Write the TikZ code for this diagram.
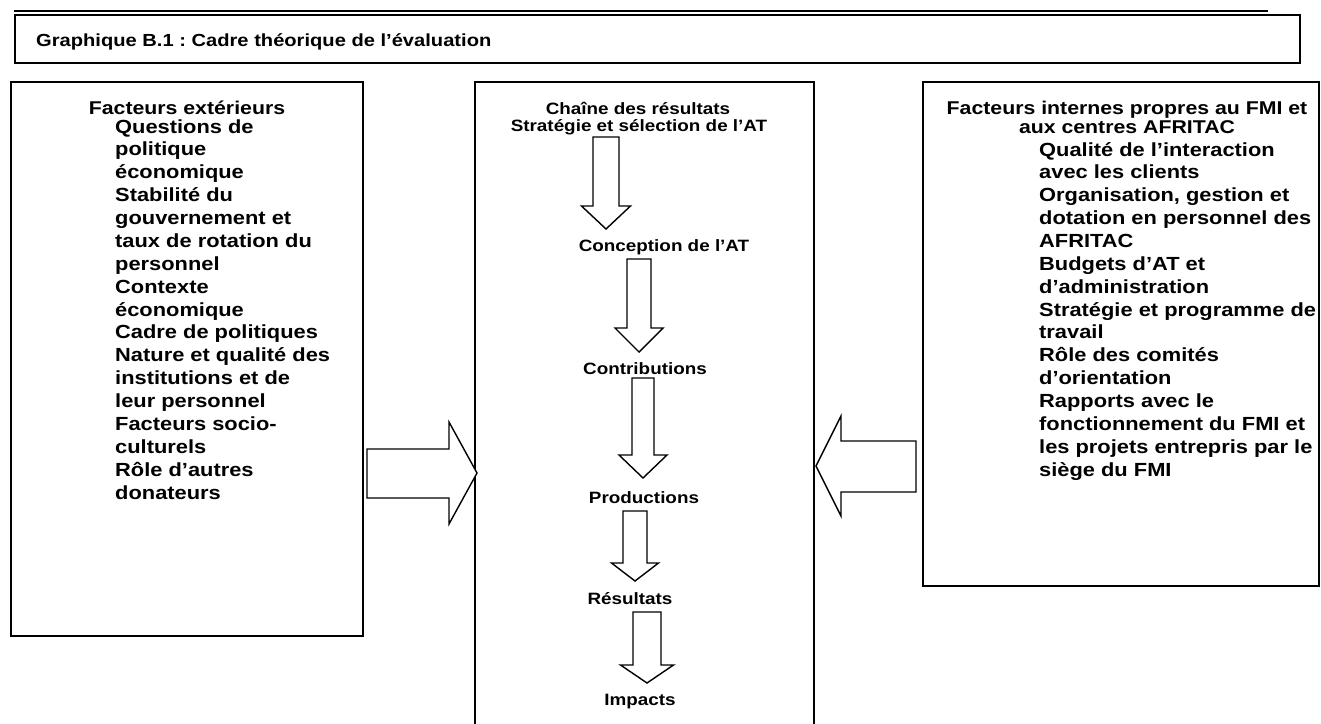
\documentclass[tikz,border=0pt]{standalone}
\usepackage{fontspec}
\newfontfamily\fwide{Liberation Sans}[FakeStretch=1.15]
\begin{document}
\frenchspacing
\begin{tikzpicture}[x=1pt,y=-1pt,
  frame/.style={draw, line width=1.8pt, inner sep=0pt, anchor=north west},
  blockarrow/.style={draw, line width=1.4pt, fill=white, line join=miter},
  itm/.style={inner sep=0pt, anchor=base west, font=\fwide\bfseries\fontsize{19}{23}\selectfont},
  hd/.style={inner sep=0pt, anchor=base, font=\fwide\bfseries\fontsize{18.5}{23}\selectfont},
  mid/.style={inner sep=0pt, anchor=base, font=\fwide\bfseries\fontsize{16.4}{20}\selectfont},
  ttl/.style={inner sep=0pt, anchor=base west, font=\fwide\bfseries\fontsize{17.5}{22}\selectfont}
]
\useasboundingbox (0,0) rectangle (1321,723);

% title
\draw[line width=1.2pt] (14,11) -- (1268,11);
\node[frame, line width=1.5pt, minimum width=1285pt, minimum height=48pt] (tbox) at (14,14) {};
\node[ttl] (title) at (36,46) {Graphique B.1 : Cadre théorique de l’évaluation};

% frames
\node[frame, minimum width=352pt, minimum height=554pt] (lbox) at (10,81) {};
\node[frame, minimum width=339pt, minimum height=670pt] (mbox) at (474,81) {};
\node[frame, minimum width=396pt, minimum height=504pt] (rbox) at (922,81) {};

% left texts
\node[hd] (lhead) at (187,114) {Facteurs extérieurs};
\foreach \t [count=\i from 0] in {Questions de, politique, économique, Stabilité du,
  gouvernement et, taux de rotation du, personnel, Contexte, économique,
  Cadre de politiques, Nature et qualité des, institutions et de, leur personnel,
  Facteurs socio-, culturels, Rôle d’autres, donateurs}
  \node[itm] (l\i) at (115,133+22.875*\i) {\t};

% right texts
\node[hd] (rhead1) at (1127,114) {Facteurs internes propres au FMI et};
\node[hd] (rhead2) at (1127,133) {aux centres AFRITAC};
\foreach \t [count=\i from 0] in {Qualité de l’interaction, avec les clients,
  {Organisation, gestion et}, dotation en personnel des, AFRITAC, Budgets d’AT et,
  d’administration, Stratégie et programme de, travail, Rôle des comités,
  d’orientation, Rapports avec le, fonctionnement du FMI et,
  les projets entrepris par le, siège du FMI}
  \node[itm] (r\i) at (1039,156+22.86*\i) {\t};

% middle texts
\node[mid] (m0) at (638,114) {Chaîne des résultats};
\node[mid] (m1) at (639,131) {Stratégie et sélection de l’AT};
\node[mid] (m2) at (664,251) {Conception de l’AT};
\node[mid] (m3) at (645,374) {Contributions};
\node[mid] (m4) at (644,503) {Productions};
\node[mid] (m5) at (630,604) {Résultats};
\node[mid] (m6) at (640,705) {Impacts};

% horizontal block arrows
\draw[blockarrow] (367,449) -- (449,449) -- (449,422) -- (477,473) -- (449,524) -- (449,498) -- (367,498) -- cycle;
\draw[blockarrow] (916,441) -- (841,441) -- (841,416) -- (816,466) -- (841,516) -- (841,492) -- (916,492) -- cycle;

% vertical block arrows: center, top, head base, tip, shaft half width, head half width
\foreach \cx/\tp/\hb/\tip/\sw/\hw in {606/137/206/229/13/24.5, 639/259/328/352/12/24,
  643/378/455/478/11/24, 635/511/563/581/12/23.5, 647/612/665/683/14/26.5}
  \draw[blockarrow] (\cx-\sw,\tp) -- (\cx+\sw,\tp) -- (\cx+\sw,\hb) -- (\cx+\hw,\hb)
    -- (\cx,\tip) -- (\cx-\hw,\hb) -- (\cx-\sw,\hb) -- cycle;
\end{tikzpicture}
\end{document}
